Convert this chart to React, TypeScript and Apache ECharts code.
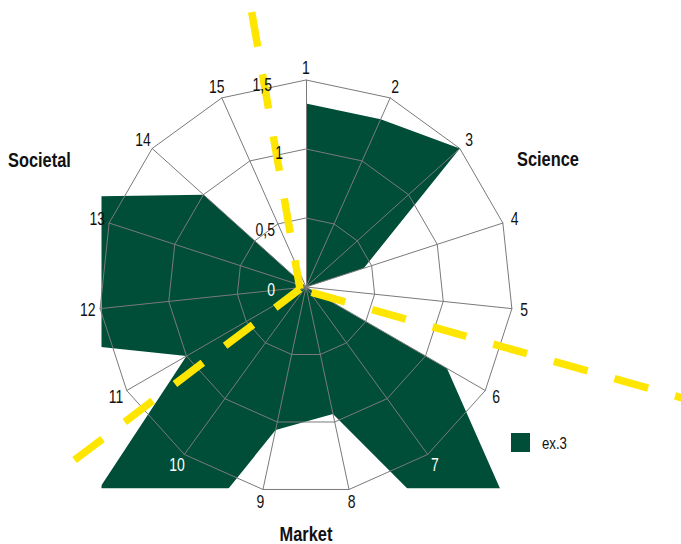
import React, { useEffect, useRef } from 'react';
import * as echarts from 'echarts';

// ---------- data ----------
const CATEGORIES = ['1', '2', '3', '4', '5', '6', '7', '8', '9', '10', '11', '12', '13', '14', '15'];
const VALUES = [1.33, 1.33, 1.5, 0.44, 0, 1.18, 3.3, 0.94, 1.06, 9.6, 1.0, 2.83, 2.1, 1.0, 0];
const RADIAL_TICKS = [0, 0.5, 1, 1.5];
const RADIAL_TICK_LABELS = ['0', '0,5', '1', '1,5'];
const GROUP_NAMES = ['Science', 'Market', 'Societal'];
const SERIES_NAME = 'ex.3';
const RADIUS_MAX = 1.5;

// ---------- layout / style ----------
const CENTER = [306, 287];
const RADIUS = 207;
const CLIP = { x: 101.5, y: 86, width: 409, height: 402.3 };
const LABEL_R = 1.59;
const TICK_NUDGE = [[-31, 3], [-31, 12], [-23, 4], [-34, 5]];
const RAY_ORIGIN_OFFSET = [-6, 2];
const RAYS = [
  { angle: 99.9, length: 281 },
  { angle: -142.8, length: 283 },
  { angle: -15.9, length: 425 },
];
const LEGEND_BOX = { x: 511, y: 433, size: 19, textX: 542 };
const GREEN = '#004E38';
const GRID = '#7a7a7a';
const YELLOW = '#FFE600';
const TEXT = '#111111';
const FONT = '"Liberation Sans", Arial, sans-serif';
const NARROW_SCALE = 0.8;

function insideGreen(pt: number[], poly: number[][]): boolean {
  const [x, y] = pt;
  if (x < CLIP.x || x > CLIP.x + CLIP.width || y < CLIP.y || y > CLIP.y + CLIP.height) return false;
  let inside = false;
  for (let i = 0, j = poly.length - 1; i < poly.length; j = i++) {
    const xi = poly[i][0], yi = poly[i][1], xj = poly[j][0], yj = poly[j][1];
    const intersect = (yi > y) !== (yj > y) && x < ((xj - xi) * (y - yi)) / (yj - yi) + xi;
    if (intersect) inside = !inside;
  }
  return inside;
}

export default function App() {
  const ref = useRef<HTMLDivElement>(null);

  useEffect(() => {
    document.body.style.margin = '0';
    if (!ref.current) return;
    const chart = echarts.init(ref.current, undefined, { renderer: 'svg' });

    const indicator = [CATEGORIES[0], ...CATEGORIES.slice(1).reverse()].map((name) => ({
      name,
      min: 0,
      max: RADIUS_MAX,
    }));

    const rayLines = RAYS.map((r) => {
      const ox = CENTER[0] + RAY_ORIGIN_OFFSET[0];
      const oy = CENTER[1] + RAY_ORIGIN_OFFSET[1];
      const a = (r.angle * Math.PI) / 180;
      return {
        type: 'line',
        z: 10,
        silent: true,
        shape: { x1: ox + Math.cos(a) * r.length, y1: oy - Math.sin(a) * r.length, x2: ox, y2: oy },
        style: { stroke: YELLOW, lineWidth: 7.5, lineDash: [35, 28], lineCap: 'butt' },
      };
    });

    const groupTexts = [
      { text: GROUP_NAMES[0], x: 517, y: 158.5, align: 'left' },
      { text: GROUP_NAMES[1], x: 306, y: 533.5, align: 'center' },
      { text: GROUP_NAMES[2], x: 8, y: 159.5, align: 'left' },
    ].map((g) => ({
      type: 'text',
      z: 20,
      silent: true,
      x: g.x,
      y: g.y,
      scaleX: 0.82,
      style: {
        text: g.text,
        fill: TEXT,
        fontSize: 20,
        fontWeight: 'bold',
        fontFamily: FONT,
        align: g.align,
        verticalAlign: 'middle',
      },
    }));

    const legendEls = [
      {
        type: 'rect',
        z: 20,
        silent: true,
        shape: { x: LEGEND_BOX.x, y: LEGEND_BOX.y, width: LEGEND_BOX.size, height: LEGEND_BOX.size },
        style: { fill: GREEN },
      },
      {
        type: 'text',
        z: 20,
        silent: true,
        x: LEGEND_BOX.textX,
        y: LEGEND_BOX.y + LEGEND_BOX.size / 2 + 0.5,
        scaleX: NARROW_SCALE,
        style: {
          text: SERIES_NAME,
          fill: TEXT,
          fontSize: 16.5,
          fontFamily: FONT,
          align: 'left',
          verticalAlign: 'middle',
        },
      },
    ];

    const polyPoints = (api: any) => VALUES.map((v, i) => api.coord([v, i]));

    chart.setOption({
      animation: false,
      backgroundColor: '#ffffff',
      radar: {
        center: CENTER,
        radius: RADIUS,
        startAngle: 90,
        splitNumber: 3,
        shape: 'polygon',
        indicator,
        z: 3,
        axisName: { show: false },
        axisLine: { lineStyle: { color: GRID, width: 1 } },
        splitLine: { lineStyle: { color: GRID, width: 1 } },
        splitArea: { show: false },
        axisTick: { show: false },
        axisLabel: { show: false },
        silent: true,
      },
      polar: { center: CENTER, radius: RADIUS },
      angleAxis: {
        type: 'value',
        min: 0,
        max: CATEGORIES.length,
        startAngle: 90,
        clockwise: true,
        axisLine: { show: false },
        axisTick: { show: false },
        axisLabel: { show: false },
        splitLine: { show: false },
        splitArea: { show: false },
      },
      radiusAxis: {
        type: 'value',
        min: 0,
        max: RADIUS_MAX,
        axisLine: { show: false },
        axisTick: { show: false },
        axisLabel: { show: false },
        splitLine: { show: false },
        splitArea: { show: false },
      },
      graphic: { elements: [...rayLines, ...groupTexts, ...legendEls] },
      series: [
        {
          type: 'custom',
          name: SERIES_NAME,
          coordinateSystem: 'polar',
          z: 1,
          silent: true,
          itemStyle: { color: GREEN },
          data: [[0, 0]],
          renderItem: (_params: any, api: any) => ({
            type: 'polygon',
            shape: { points: polyPoints(api) },
            style: { fill: GREEN, stroke: 'none' },
            clipPath: { type: 'rect', shape: { ...CLIP } },
          }),
        },
        {
          type: 'custom',
          name: 'category-labels',
          coordinateSystem: 'polar',
          z: 20,
          silent: true,
          data: CATEGORIES.map((_, i) => [LABEL_R, i]),
          renderItem: (params: any, api: any) => {
            const i = params.dataIndex;
            const p = api.coord([LABEL_R, i]);
            const light = insideGreen(p, polyPoints(api));
            return {
              type: 'text',
              x: p[0],
              y: p[1],
              scaleX: NARROW_SCALE,
              style: {
                text: CATEGORIES[i],
                fill: light ? '#ffffff' : TEXT,
                fontSize: 17.5,
                fontFamily: FONT,
                align: 'center',
                verticalAlign: 'middle',
              },
            };
          },
        },
        {
          type: 'custom',
          name: 'radial-labels',
          coordinateSystem: 'polar',
          z: 20,
          silent: true,
          data: RADIAL_TICKS.map((v) => [v, 0]),
          renderItem: (params: any, api: any) => {
            const i = params.dataIndex;
            const p = api.coord([RADIAL_TICKS[i], 0]);
            const x = p[0] + TICK_NUDGE[i][0];
            const y = p[1] + TICK_NUDGE[i][1];
            const light = insideGreen([x - 7, y], polyPoints(api));
            return {
              type: 'text',
              x,
              y,
              scaleX: NARROW_SCALE,
              style: {
                text: RADIAL_TICK_LABELS[i],
                fill: light ? '#ffffff' : TEXT,
                fontSize: 17.5,
                fontFamily: FONT,
                align: 'right',
                verticalAlign: 'middle',
              },
            };
          },
        },
      ],
    });

    return () => chart.dispose();
  }, []);

  return <div ref={ref} style={{ width: 681, height: 544 }} />;
}
